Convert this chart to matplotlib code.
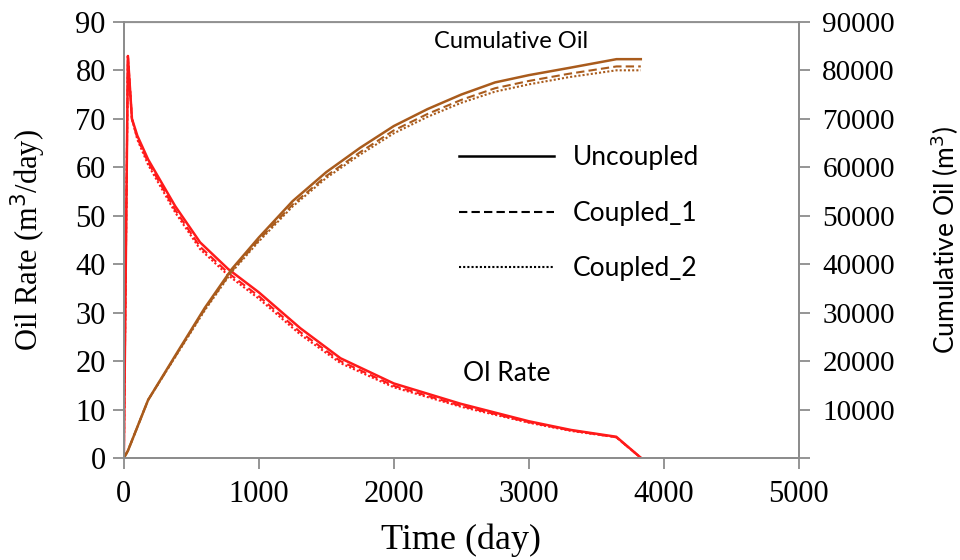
import matplotlib
matplotlib.use("Agg")
import matplotlib.pyplot as plt
from matplotlib.lines import Line2D
import numpy as np

# oil rate (m3/day) vs time (day)
t_rate = [0, 30, 60, 100, 180, 380, 565, 773, 1000, 1307, 1605, 2000, 2496, 3000, 3313, 3648, 3833]
rate_unc = [0, 83, 70, 66.5, 61.6, 52, 44.5, 39, 34.2, 26.8, 20.6, 15.4, 11.2, 7.6, 5.8, 4.4, 0]
rate_c1 = [0, 83, 70, 66, 61, 51.2, 43.6, 38.2, 33.4, 26.0, 20.0, 14.9, 10.8, 7.4, 5.7, 4.3, 0]
rate_c2 = [0, 83, 70, 65.7, 60.5, 50.7, 43.1, 37.7, 32.9, 25.5, 19.6, 14.6, 10.6, 7.3, 5.6, 4.3, 0]

# cumulative oil (m3) vs time (day)
t_cum = [0, 30, 180, 400, 600, 800, 1000, 1250, 1500, 1750, 2000, 2250, 2500, 2750, 3000, 3300, 3650, 3830]
cum_unc = [0, 1500, 12000, 22000, 31000, 39000, 45500, 53000, 59000, 64000, 68500, 72000, 75000, 77500, 79000, 80500, 82300, 82300]
cum_c1 = [0, 1500, 12000, 21800, 30700, 38600, 45000, 52300, 58200, 63100, 67600, 71000, 73900, 76300, 77800, 79300, 80800, 80800]
cum_c2 = [0, 1500, 12000, 21700, 30500, 38400, 44700, 51900, 57800, 62600, 67000, 70400, 73300, 75600, 77100, 78600, 80000, 80000]

red = "#ff1a1a"
brown = "#a95b1c"
grey = "#8c8c8c"
serif = "Liberation Serif"
sans = "Lato"

fig = plt.figure(figsize=(9.6, 5.6), dpi=100)
ax = fig.add_axes([0.129, 0.182, 0.703, 0.779])
ax2 = ax.twinx()

ax.plot(t_rate, rate_unc, color=red, lw=1.8, solid_joinstyle="miter")
ax.plot(t_rate, rate_c1, color=red, lw=1.5, ls=(0, (4, 2)))
ax.plot(t_rate, rate_c2, color=red, lw=1.5, ls=(0, (1, 1)))
ax2.plot(t_cum, cum_unc, color=brown, lw=1.8)
ax2.plot(t_cum, cum_c1, color=brown, lw=1.5, ls=(0, (4, 2)))
ax2.plot(t_cum, cum_c2, color=brown, lw=1.5, ls=(0, (1, 1)))

ax.set_xlim(0, 5000)
ax.set_ylim(0, 90)
ax2.set_ylim(0, 90000)
ax.set_xticks(np.arange(0, 5001, 1000))
ax.set_yticks(np.arange(0, 91, 10))
ax2.set_yticks(np.arange(0, 90001, 10000))
ax2.set_yticklabels([""] + [str(v) for v in range(10000, 90001, 10000)])

for a in (ax, ax2):
    for s in a.spines.values():
        s.set_color(grey)
        s.set_linewidth(1.3)
    a.tick_params(colors=grey, length=8, width=1.3, labelcolor="black")
ax.spines["top"].set_color("#c8c8c8")
ax.spines["top"].set_linewidth(1.0)
ax.tick_params(axis="x", pad=8)
ax.tick_params(axis="y", pad=5)
ax2.tick_params(axis="y", pad=9)
for lab in ax.get_xticklabels() + ax.get_yticklabels():
    lab.set_fontfamily(serif)
    lab.set_fontsize(22)
for lab in ax2.get_yticklabels():
    lab.set_fontfamily(serif)
    lab.set_fontsize(21)

ax.set_xlabel("Time (day)", fontfamily=serif, fontsize=26, labelpad=10)
ax.set_ylabel("Oil Rate (m$^3$/day)", fontfamily=serif, fontsize=22, labelpad=20)
ax2.set_ylabel("Cumulative Oil (m$^3$)", fontfamily=sans, fontsize=19, labelpad=24)

ax.text(0.46, 0.955, "Cumulative Oil", transform=ax.transAxes, fontfamily=sans, fontsize=17, va="center")
ax.text(0.503, 0.195, "Ol Rate", transform=ax.transAxes, fontfamily=sans, fontsize=19, va="center")

handles = [Line2D([], [], color="black", lw=1.8),
           Line2D([], [], color="black", lw=1.5, ls=(0, (4, 2))),
           Line2D([], [], color="black", lw=1.5, ls=(0, (1, 1)))]
leg = ax.legend(handles, ["Uncoupled", "Coupled_1", "Coupled_2"], loc="upper left",
                bbox_to_anchor=(0.462, 0.771), frameon=False, handlelength=3.6,
                handletextpad=0.7, labelspacing=1.15, prop={"family": sans, "size": 19})

fig.savefig("out.png", dpi=100)
